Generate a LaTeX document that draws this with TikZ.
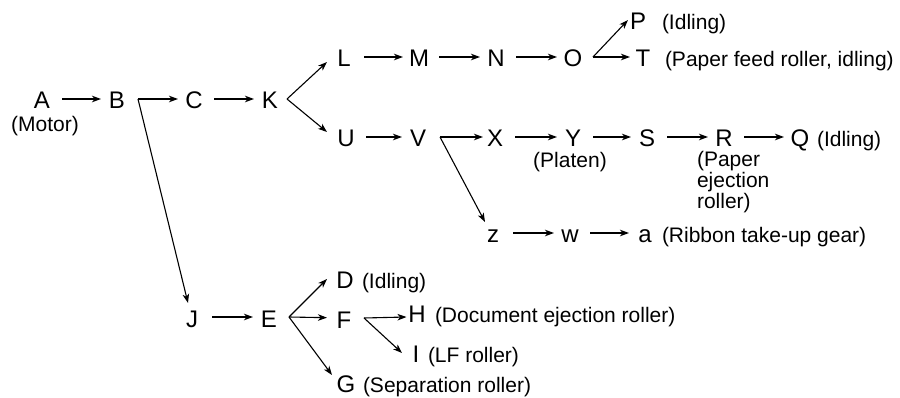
\documentclass[tikz,border=0pt]{standalone}
\usepackage{fontspec}
\setmainfont{Liberation Sans}
\usetikzlibrary{arrows.meta,calc}
\begin{document}
\begin{tikzpicture}[x=1pt,y=-1pt,
  lt/.style={inner sep=0pt, outer sep=0pt, anchor=base, text height=20pt, text depth=0pt, font=\fontsize{24}{28}\selectfont},
  lb/.style={inner sep=0pt, outer sep=0pt, anchor=base west, font=\fontsize{21}{21}\selectfont},
  arr/.style={-{Stealth[length=9pt,width=6.5pt,inset=2.5pt]}, line width=1.1pt},
  hz/.style={arr, shorten <=20pt, shorten >=16pt}]
\useasboundingbox (0,0) rectangle (900,398);
% nodes
\node[lt] (A) at (42,109) {A};
\node[lb, anchor=base] (Al) at (45,132) {(Motor)};
\node[lt] (B) at (117,109) {B};
\node[lt] (C) at (194,109) {C};
\node[lt] (K) at (270,109) {K};
\node[lt] (L) at (344,67) {L};
\node[lt] (M) at (419,67) {M};
\node[lt] (N) at (496,67) {N};
\node[lt] (O) at (573,67) {O};
\node[lt] (P) at (638,30) {P};
\node[lb] (Pl) at (662,30) {(Idling)};
\node[lt] (T) at (643,67) {T};
\node[lb] (Tl) at (665,67) {(Paper feed roller, idling)};
\node[lt] (U) at (346,147) {U};
\node[lt] (V) at (418,147) {V};
\node[lt] (X) at (495,147) {X};
\node[lt] (Y) at (573,147) {Y};
\node[lb, anchor=base] (Yl) at (570,168) {(Platen)};
\node[lt] (S) at (647,147) {S};
\node[lt] (R) at (724,147) {R};
\node[lb, align=left] (Rl) at (697,209) {(Paper\\ejection\\roller)};
\node[lt] (Q) at (800,147) {Q};
\node[lb] (Ql) at (817,147) {(Idling)};
\node[lt] (z) at (493,243) {z};
\node[lt] (w) at (570,243) {w};
\node[lt] (a) at (645,243) {a};
\node[lb] (al) at (662,243) {(Ribbon take-up gear)};
\node[lt] (J) at (192,327) {J};
\node[lt] (E) at (269,327) {E};
\node[lt] (D) at (345,289) {D};
\node[lb] (Dl) at (362,289) {(Idling)};
\node[lt] (F) at (344,328) {F};
\node[lt] (H) at (417,323) {H};
\node[lb] (Hl) at (435,323) {(Document ejection roller)};
\node[lt] (I) at (416,362) {I};
\node[lb] (Il) at (428,362) {(LF roller)};
\node[lt] (G) at (346,392) {G};
\node[lb] (Gl) at (363,392) {(Separation roller)};
% branch points
\coordinate (bB) at ($(B.center)+(21,0)$);
\coordinate (bK) at ($(K.center)+(17,0)$);
\coordinate (bO) at ($(O.center)+(20,0)$);
\coordinate (bV) at ($(V.center)+(22,0)$);
\coordinate (bE) at ($(E.center)+(20,0)$);
\coordinate (bF) at ($(F.center)+(20,0)$);
% connectors
\draw[hz] (A.center) -- (B.center);
\draw[arr, shorten >=16pt] (bB) -- (C.center);
\draw[arr] (bB) -- ($(J.center)+(-4,-14)$);
\draw[hz] (C.center) -- (K.center);
\draw[arr] (bK) -- ($(L.center)+(-17,5)$);
\draw[arr] (bK) -- ($(U.center)+(-19,-5)$);
\draw[hz] (L.center) -- (M.center);
\draw[hz] (M.center) -- (N.center);
\draw[hz] (N.center) -- (O.center);
\draw[arr] (bO) -- ($(P.center)+(-10,0)$);
\draw[arr, shorten >=13pt] (bO) -- (T.center);
\draw[hz] (U.center) -- (V.center);
\draw[arr, shorten >=12pt] (bV) -- (X.center);
\draw[arr] (bV) -- ($(z.center)+(-8,-11)$);
\draw[hz] (X.center) -- (Y.center);
\draw[hz] (Y.center) -- (S.center);
\draw[hz] (S.center) -- (R.center);
\draw[hz] (R.center) -- (Q.center);
\draw[hz] (z.center) -- (w.center);
\draw[hz] (w.center) -- (a.center);
\draw[hz] (J.center) -- (E.center);
\draw[arr] (bE) -- ($(D.center)+(-18,0)$);
\draw[arr, shorten >=17pt] (bE) -- (F.center);
\draw[arr] (bE) -- ($(G.center)+(-14,-7)$);
\draw[arr] (bF) -- ($(H.center)+(-10.5,4)$);
\draw[arr] (bF) -- ($(I.center)+(-14,1)$);
\end{tikzpicture}
\end{document}
